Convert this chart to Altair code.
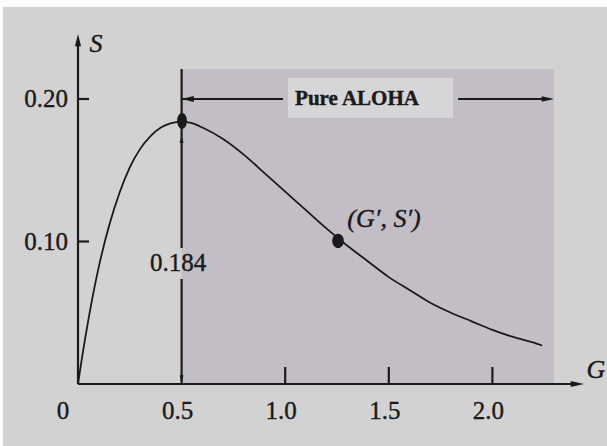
import altair as alt
import pandas as pd

# ---------------- data ----------------
G_curve = [0.0, 0.02, 0.05, 0.1, 0.15, 0.2, 0.25, 0.3, 0.35, 0.4, 0.45, 0.5, 0.55, 0.6, 0.7, 0.8, 0.9,
           1.0, 1.1, 1.2, 1.3, 1.4, 1.5, 1.6, 1.7, 1.8, 1.9, 2.0, 2.1, 2.2, 2.24]
S_curve = [0.0, 0.019, 0.045, 0.082, 0.111, 0.134, 0.152, 0.165, 0.174, 0.180, 0.183, 0.184, 0.183, 0.180,
           0.172, 0.161, 0.148, 0.135, 0.122, 0.109, 0.097, 0.086, 0.075, 0.066, 0.057, 0.050, 0.044,
           0.038, 0.033, 0.029, 0.027]

peak_G = [0.502]
peak_S = [0.1846]
gs_G = [1.255]
gs_S = [0.1004]

x_ticks = [1.0, 1.5, 2.0]
x_tick_label_vals = [0.0, 0.5, 1.0, 1.5, 2.0]
x_tick_labels = ["0", "0.5", "1.0", "1.5", "2.0"]
y_ticks = [0.10, 0.20]
y_tick_labels = ["0.10", "0.20"]

region_G = [0.5, 2.297]      # shaded "Pure ALOHA" region
region_S_top = 0.221
label_box_G = [1.0135, 1.81]
label_box_S = [0.1867, 0.2147]

# ---------------- layout (pixels -> data) ----------------
W, H = 607, 446
X0, PXG = 78.0, 207.2      # pixel x of G=0, pixels per unit G
Y0, PXS = 384.0, 1425.0    # pixel y of S=0, pixels per unit S


def gx(px):
    return (px - X0) / PXG


def sy(py):
    return (Y0 - py) / PXS


xs = alt.Scale(domain=[gx(0), gx(W)], nice=False, zero=False)
ys = alt.Scale(domain=[sy(H), sy(0)], nice=False, zero=False)

BG = "#d2d2d2"
SHADE = "#c3bec6"
BOX = "#d6d5d8"
INK = "#1a1a1a"
SERIF = "Times New Roman, Liberation Serif, Times, serif"


def X(f="G"):
    return alt.X(f"{f}:Q", scale=xs, axis=None)


def Y(f="S"):
    return alt.Y(f"{f}:Q", scale=ys, axis=None)


# background panel (white strip on top/left as in the scan)
bg = alt.Chart(pd.DataFrame({"G": [gx(3)], "G2": [gx(W)], "S": [sy(H)], "S2": [sy(7)]})).mark_rect(
    color=BG).encode(x=X(), x2="G2:Q", y=Y(), y2="S2:Q")

shade = alt.Chart(pd.DataFrame({"G": [region_G[0]], "G2": [region_G[1]], "S": [0.0], "S2": [region_S_top]})).mark_rect(
    color=SHADE).encode(x=X(), x2="G2:Q", y=Y(), y2="S2:Q")

box = alt.Chart(pd.DataFrame({"G": [label_box_G[0]], "G2": [label_box_G[1]],
                              "S": [label_box_S[0]], "S2": [label_box_S[1]]})).mark_rect(
    color=BOX).encode(x=X(), x2="G2:Q", y=Y(), y2="S2:Q")

# line segments: axes, ticks, dimension lines
segs = []
segs.append((0.0, 0.0, gx(575), 0.0))              # x axis
segs.append((0.0, 0.0, 0.0, sy(45)))               # y axis
for t in x_ticks:
    segs.append((t, 0.0, t, sy(367)))
for t in y_ticks:
    segs.append((0.0, t, gx(89), t))
segs.append((0.5, region_S_top, 0.5, sy(248)))     # vertical 0.184 line (upper)
segs.append((0.5, sy(279), 0.5, 0.0))              # vertical 0.184 line (lower)
segs.append((0.5, 0.20, gx(283), 0.20))            # Pure ALOHA left arrow line
segs.append((gx(458), 0.20, gx(548), 0.20))        # Pure ALOHA right arrow line
seg_df = pd.DataFrame(segs, columns=["G", "S", "G2", "S2"])
rules = alt.Chart(seg_df).mark_rule(color=INK, strokeWidth=2.2).encode(
    x=X(), y=Y(), x2="G2:Q", y2="S2:Q")

# arrow heads (tip at the data point)
UP = "M0,0L-0.25,1L0.25,1Z"
DOWN = "M0,0L-0.22,-1L0.22,-1Z"
RIGHT = "M0,0L-1,-0.22L-1,0.22Z"
LEFT = "M0,0L1,-0.25L1,0.25Z"
ELLIPSE = "M0,-1A0.62,1 0 1,1 0,1A0.62,1 0 1,1 0,-1Z"
ELLIPSE2 = "M0,-1A0.82,1 0 1,1 0,1A0.82,1 0 1,1 0,-1Z"


def head(g, s, shape, size):
    return alt.Chart(pd.DataFrame({"G": [g], "S": [s]})).mark_point(
        shape=shape, filled=True, color=INK, opacity=1, size=size, strokeWidth=0).encode(x=X(), y=Y())


heads = [
    head(0.0, sy(34), UP, 600),
    head(gx(584), 0.0, RIGHT, 700),
    head(0.5, 0.0, DOWN, 300),
    head(0.5, 0.20, LEFT, 600),
    head(region_G[1], 0.20, RIGHT, 600),
    head(0.5, sy(135), UP, 250),
]

curve = alt.Chart(pd.DataFrame({"G": G_curve, "S": S_curve})).mark_line(
    color=INK, strokeWidth=1.8, interpolate="monotone").encode(x=X(), y=Y())

peak_dot = alt.Chart(pd.DataFrame({"G": peak_G, "S": peak_S})).mark_point(
    shape=ELLIPSE, filled=True, color=INK, opacity=1, size=250, strokeWidth=0).encode(x=X(), y=Y())

gs_dot = alt.Chart(pd.DataFrame({"G": gs_G, "S": gs_S})).mark_point(
    shape=ELLIPSE2, filled=True, color=INK, opacity=1, size=200, strokeWidth=0).encode(x=X(), y=Y())

TXT = dict(font=SERIF, color=INK, stroke=INK, strokeWidth=0.4)

# tick labels
xl = alt.Chart(pd.DataFrame({"G": [v + gx(74) - gx(78) if v > 0 else gx(63) for v in x_tick_label_vals],
                             "S": [sy(411)] * len(x_tick_labels), "t": x_tick_labels})).mark_text(
    fontSize=25, align="center", baseline="middle", **TXT).encode(x=X(), y=Y(), text="t:N")

yl = alt.Chart(pd.DataFrame({"G": [gx(68)] * len(y_ticks), "S": y_ticks, "t": y_tick_labels})).mark_text(
    fontSize=25, align="right", baseline="middle", **TXT).encode(x=X(), y=Y(), text="t:N")

val_lbl = alt.Chart(pd.DataFrame({"G": [0.483], "S": [sy(263)], "t": ["0.184"]})).mark_text(
    fontSize=25, align="center", baseline="middle", **TXT).encode(x=X(), y=Y(), text="t:N")

italic = alt.Chart(pd.DataFrame({"G": [gx(96), gx(596), gx(384)],
                                 "S": [sy(44), sy(370), sy(219)],
                                 "t": ["S", "G", "(G\u2032, S\u2032)"]})).mark_text(
    fontSize=26, fontStyle="italic", align="center", baseline="middle", **TXT).encode(
    x=X(), y=Y(), text="t:N")

pure = alt.Chart(pd.DataFrame({"G": [gx(357)], "S": [0.20], "t": ["Pure ALOHA"]})).mark_text(
    fontSize=21, fontWeight="bold", align="center", baseline="middle", **TXT).encode(
    x=X(), y=Y(), text="t:N")

chart = alt.layer(bg, shade, box, rules, curve, *heads, peak_dot, gs_dot, xl, yl, val_lbl, italic, pure).properties(
    width=W, height=H, padding=0, autosize=alt.AutoSizeParams(type="none"), background="white"
).configure_view(stroke=None)

chart.save("out.html", embed_options={"renderer": "svg", "actions": False})
